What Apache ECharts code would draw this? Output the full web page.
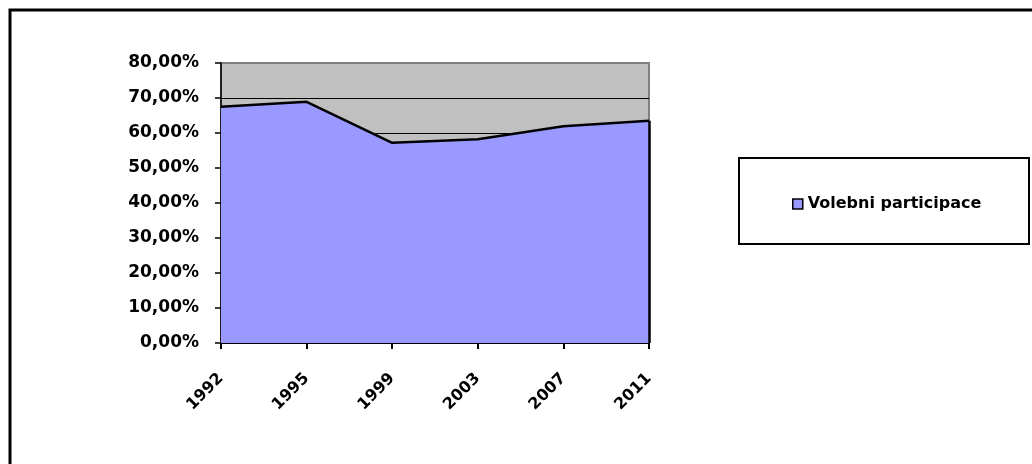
<!DOCTYPE html>
<html>
<head>
<meta charset="utf-8">
<script src="https://cdn.jsdelivr.net/npm/echarts@6/dist/echarts.min.js"></script>
<style>html,body{margin:0;padding:0;background:#fff}#c{width:1032px;height:464px}</style>
</head>
<body>
<div id="c"></div>
<script>
var categories = ['1992', '1995', '1999', '2003', '2007', '2011'];
var turnout = [67.5, 68.9, 57.2, 58.2, 61.9, 63.5];
var seriesName = 'Volebni participace';
var yTicks = {min: 0, max: 80, interval: 10};

var chart = echarts.init(document.getElementById('c'));
var font = {fontFamily: 'DejaVu Sans', fontWeight: 'bold', fontSize: 16, color: '#000'};
var splitColors = [];
for (var i = 0; i < 8; i++) splitColors.push('#000');
splitColors.push('#808080');
var lastIdx = categories.length - 1;
chart.setOption({
  animation: false,
  backgroundColor: '#fff',
  graphic: [
    {type: 'rect', shape: {x: 10, y: 10, width: 1100, height: 1000}, style: {fill: 'none', stroke: '#000', lineWidth: 3}, z: 0},
    {type: 'rect', shape: {x: 739, y: 158, width: 290, height: 86}, style: {fill: '#fff', stroke: '#000', lineWidth: 2}, z: 0}
  ],
  grid: {left: 221, right: 383, top: 63, bottom: 121, show: true, backgroundColor: '#C0C0C0', borderColor: '#808080', borderWidth: 2},
  legend: {
    left: 787, top: 191, icon: 'rect', itemWidth: 10, itemHeight: 10, itemGap: 5,
    textStyle: font, z: 5,
    data: [{name: seriesName, itemStyle: {color: '#9999FF', borderColor: '#000', borderWidth: 1.5}}]
  },
  xAxis: {
    type: 'category', data: categories, boundaryGap: false,
    axisLine: {lineStyle: {color: '#000', width: 2}},
    axisTick: {show: true, length: 6, lineStyle: {color: '#000', width: 2}},
    axisLabel: Object.assign({rotate: 45, margin: 33, interval: 0}, font),
    splitLine: {show: false}
  },
  yAxis: {
    type: 'value', min: yTicks.min, max: yTicks.max, interval: yTicks.interval,
    axisLine: {show: true, lineStyle: {color: '#000', width: 1.5}},
    axisTick: {show: true, length: 6, lineStyle: {color: '#000', width: 1.5}},
    axisLabel: Object.assign({}, font, {fontSize: 17, margin: 22, formatter: function (v) { return v.toFixed(2).replace('.', ',') + '%'; }}),
    splitLine: {show: true, lineStyle: {color: splitColors, width: 1}}
  },
  series: [{
    name: seriesName, type: 'line', data: turnout, symbol: 'none',
    lineStyle: {color: '#000', width: 2.5},
    itemStyle: {color: '#9999FF'},
    areaStyle: {color: '#9999FF', opacity: 1},
    markLine: {
      silent: true, symbol: 'none', label: {show: false},
      lineStyle: {color: '#000', width: 2.5, type: 'solid'},
      data: [[{coord: [categories[lastIdx], 0]}, {coord: [categories[lastIdx], turnout[lastIdx]]}]]
    }
  }]
});
</script>
</body>
</html>
